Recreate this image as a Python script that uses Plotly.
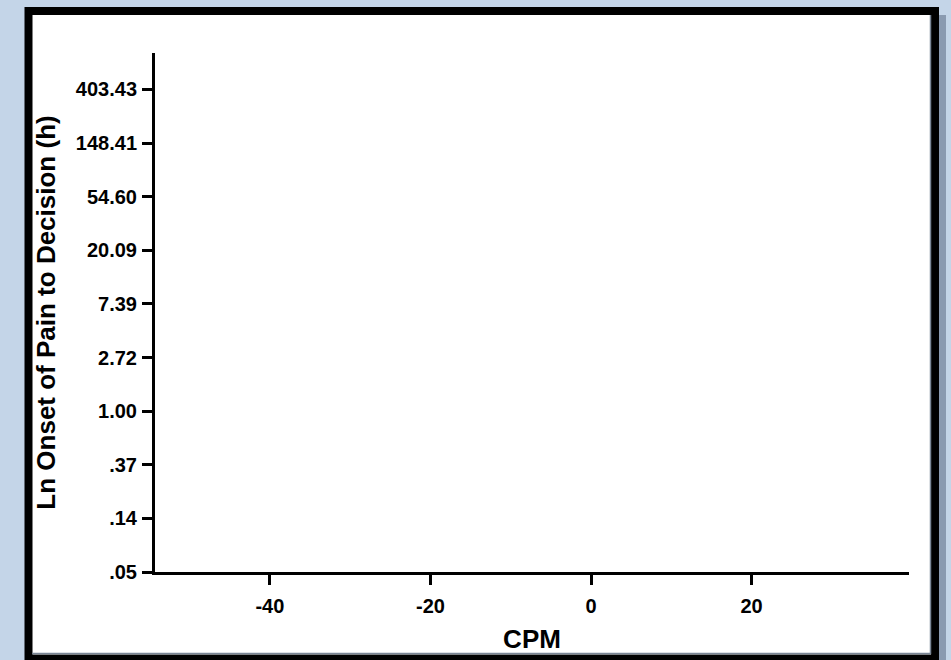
import plotly.graph_objects as go

# ---- data ----
x_tick_values = [-40, -20, 0, 20]
x_tick_labels = ["-40", "-20", "0", "20"]
y_ln_tick_values = [-3, -2, -1, 0, 1, 2, 3, 4, 5, 6]
y_tick_labels = [".05", ".14", ".37", "1.00", "2.72", "7.39", "20.09", "54.60", "148.41", "403.43"]
x_range = [-54.3, 39.6]
y_range = [-3, 6.68]
x_title = "CPM"
y_title = "Ln Onset of Pain to Decision (h)"

W, H = 951, 660
ML, MR, MT, MB = 155, 42, 53, 88
PW, PH = W - ML - MR, H - MT - MB

def px(x):
    return (x - ML) / PW

def py(y):
    return (H - MB - y) / PH

fig = go.Figure()
fig.add_trace(go.Scatter(x=[], y=[], mode="markers", showlegend=False))

font = dict(family="Liberation Sans, Arial, sans-serif", color="black", weight="bold")

fig.update_layout(
    width=W, height=H,
    margin=dict(l=ML, r=MR, t=MT, b=MB, pad=0),
    paper_bgcolor="#c4d5e8",
    plot_bgcolor="white",
    showlegend=False,
    xaxis=dict(
        range=x_range, tickvals=x_tick_values, ticktext=x_tick_labels,
        showgrid=False, zeroline=False, showline=True, linecolor="black", linewidth=3,
        ticks="outside", ticklen=10, tickwidth=3, tickcolor="black",
        tickfont=dict(size=20, **font), ticklabelstandoff=4,
        title=dict(text=x_title, font=dict(size=26, **font), standoff=14),
    ),
    yaxis=dict(
        range=y_range, tickvals=y_ln_tick_values, ticktext=y_tick_labels,
        showgrid=False, zeroline=False, showline=True, linecolor="black", linewidth=3,
        ticks="outside", ticklen=10, tickwidth=3, tickcolor="black",
        tickfont=dict(size=20, **font), ticklabelstandoff=1,
        title=dict(text=y_title, font=dict(size=26, **font), standoff=13),
    ),
    shapes=[
        # drop shadow
        dict(type="rect", xref="paper", yref="paper", layer="below",
             x0=px(33), x1=px(946), y0=py(15), y1=py(668),
             line=dict(width=0), fillcolor="rgba(80,95,120,0.5)"),
        # white panel with black frame
        dict(type="rect", xref="paper", yref="paper", layer="below",
             x0=px(28.5), x1=px(935), y0=py(11), y1=py(658.5),
             line=dict(color="black", width=8), fillcolor="white"),
        # thin grey inner bevel at right & bottom
        dict(type="path", xref="paper", yref="paper", layer="below",
             path=f"M {px(930.5)} {py(15)} L {px(930.5)} {py(653.5)} L {px(32)} {py(653.5)}",
             line=dict(color="#7a8696", width=1.5)),
    ],
)

fig.write_html(
    "out.html",
    config={"displayModeBar": False},
    post_script="document.body.style.margin='0';document.body.style.padding='0';",
)
